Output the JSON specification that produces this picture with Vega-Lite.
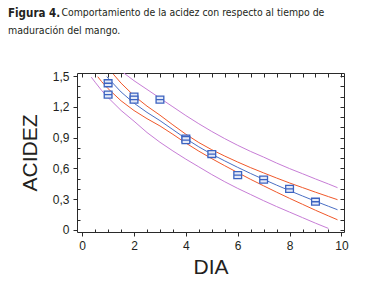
{
  "$schema": "https://vega.github.io/schema/vega-lite/v6.json",
  "width": 267,
  "height": 159,
  "autosize": {"type": "none"},
  "padding": {"left": 77, "top": 73, "right": 33, "bottom": 59},
  "background": "white",
  "config": {
    "view": {"stroke": "#2a2a2a", "strokeWidth": 1},
    "font": "Liberation Sans"
  },
  "title": {
    "text": "Figura 4.",
    "subtitle": "maduración del mango.",
    "anchor": "start",
    "frame": "group",
    "dx": -69,
    "offset": -29,
    "font": "'Liberation Sans Narrow', 'DejaVu Sans Condensed', sans-serif",
    "fontSize": 11.5,
    "fontWeight": "bold",
    "color": "#231f20",
    "subtitleFont": "'Liberation Sans Narrow', 'DejaVu Sans Condensed', sans-serif",
    "subtitleFontSize": 10.5,
    "subtitleColor": "#231f20",
    "subtitlePadding": 6
  },
  "datasets": {
    "pred": [
      {"dia": 0.35, "acidez": 1.49, "banda": "inf"},
      {"dia": 0.5, "acidez": 1.44, "banda": "inf"},
      {"dia": 0.75, "acidez": 1.36, "banda": "inf"},
      {"dia": 1, "acidez": 1.29, "banda": "inf"},
      {"dia": 1.5, "acidez": 1.165, "banda": "inf"},
      {"dia": 2, "acidez": 1.06, "banda": "inf"},
      {"dia": 2.5, "acidez": 0.95, "banda": "inf"},
      {"dia": 3, "acidez": 0.855, "banda": "inf"},
      {"dia": 3.5, "acidez": 0.77, "banda": "inf"},
      {"dia": 4, "acidez": 0.69, "banda": "inf"},
      {"dia": 4.5, "acidez": 0.615, "banda": "inf"},
      {"dia": 5, "acidez": 0.54, "banda": "inf"},
      {"dia": 5.5, "acidez": 0.47, "banda": "inf"},
      {"dia": 6, "acidez": 0.405, "banda": "inf"},
      {"dia": 6.5, "acidez": 0.345, "banda": "inf"},
      {"dia": 7, "acidez": 0.285, "banda": "inf"},
      {"dia": 7.5, "acidez": 0.228, "banda": "inf"},
      {"dia": 8, "acidez": 0.174, "banda": "inf"},
      {"dia": 8.5, "acidez": 0.12, "banda": "inf"},
      {"dia": 9, "acidez": 0.066, "banda": "inf"},
      {"dia": 9.5, "acidez": 0.015, "banda": "inf"},
      {"dia": 1.5, "acidez": 1.55, "banda": "sup"},
      {"dia": 2, "acidez": 1.455, "banda": "sup"},
      {"dia": 2.5, "acidez": 1.37, "banda": "sup"},
      {"dia": 3, "acidez": 1.285, "banda": "sup"},
      {"dia": 3.5, "acidez": 1.2, "banda": "sup"},
      {"dia": 4, "acidez": 1.115, "banda": "sup"},
      {"dia": 4.5, "acidez": 1.035, "banda": "sup"},
      {"dia": 5, "acidez": 0.96, "banda": "sup"},
      {"dia": 5.5, "acidez": 0.89, "banda": "sup"},
      {"dia": 6, "acidez": 0.825, "banda": "sup"},
      {"dia": 6.5, "acidez": 0.765, "banda": "sup"},
      {"dia": 7, "acidez": 0.71, "banda": "sup"},
      {"dia": 7.5, "acidez": 0.652, "banda": "sup"},
      {"dia": 8, "acidez": 0.598, "banda": "sup"},
      {"dia": 8.5, "acidez": 0.548, "banda": "sup"},
      {"dia": 9, "acidez": 0.497, "banda": "sup"},
      {"dia": 9.5, "acidez": 0.448, "banda": "sup"},
      {"dia": 9.85, "acidez": 0.412, "banda": "sup"}
    ],
    "conf": [
      {"dia": 0.6, "acidez": 1.494, "banda": "inf"},
      {"dia": 0.75, "acidez": 1.446, "banda": "inf"},
      {"dia": 1, "acidez": 1.377, "banda": "inf"},
      {"dia": 1.5, "acidez": 1.259, "banda": "inf"},
      {"dia": 2, "acidez": 1.164, "banda": "inf"},
      {"dia": 2.5, "acidez": 1.085, "banda": "inf"},
      {"dia": 3, "acidez": 1.014, "banda": "inf"},
      {"dia": 3.5, "acidez": 0.932, "banda": "inf"},
      {"dia": 4, "acidez": 0.847, "banda": "inf"},
      {"dia": 4.5, "acidez": 0.768, "banda": "inf"},
      {"dia": 5, "acidez": 0.695, "banda": "inf"},
      {"dia": 5.5, "acidez": 0.626, "banda": "inf"},
      {"dia": 6, "acidez": 0.559, "banda": "inf"},
      {"dia": 6.5, "acidez": 0.493, "banda": "inf"},
      {"dia": 7, "acidez": 0.43, "banda": "inf"},
      {"dia": 7.5, "acidez": 0.368, "banda": "inf"},
      {"dia": 8, "acidez": 0.308, "banda": "inf"},
      {"dia": 8.5, "acidez": 0.25, "banda": "inf"},
      {"dia": 9, "acidez": 0.192, "banda": "inf"},
      {"dia": 9.5, "acidez": 0.137, "banda": "inf"},
      {"dia": 9.85, "acidez": 0.099, "banda": "inf"},
      {"dia": 1.2, "acidez": 1.519, "banda": "sup"},
      {"dia": 1.5, "acidez": 1.431, "banda": "sup"},
      {"dia": 2, "acidez": 1.308, "banda": "sup"},
      {"dia": 2.5, "acidez": 1.207, "banda": "sup"},
      {"dia": 3, "acidez": 1.119, "banda": "sup"},
      {"dia": 3.5, "acidez": 1.024, "banda": "sup"},
      {"dia": 4, "acidez": 0.933, "banda": "sup"},
      {"dia": 4.5, "acidez": 0.852, "banda": "sup"},
      {"dia": 5, "acidez": 0.782, "banda": "sup"},
      {"dia": 5.5, "acidez": 0.72, "banda": "sup"},
      {"dia": 6, "acidez": 0.662, "banda": "sup"},
      {"dia": 6.5, "acidez": 0.607, "banda": "sup"},
      {"dia": 7, "acidez": 0.556, "banda": "sup"},
      {"dia": 7.5, "acidez": 0.506, "banda": "sup"},
      {"dia": 8, "acidez": 0.458, "banda": "sup"},
      {"dia": 8.5, "acidez": 0.413, "banda": "sup"},
      {"dia": 9, "acidez": 0.368, "banda": "sup"},
      {"dia": 9.5, "acidez": 0.325, "banda": "sup"},
      {"dia": 9.85, "acidez": 0.295, "banda": "sup"}
    ],
    "ajuste": [
      {"dia": 0.95, "acidez": 1.495},
      {"dia": 1, "acidez": 1.48},
      {"dia": 1.5, "acidez": 1.345},
      {"dia": 2, "acidez": 1.236},
      {"dia": 2.5, "acidez": 1.146},
      {"dia": 3, "acidez": 1.066},
      {"dia": 3.5, "acidez": 0.978},
      {"dia": 4, "acidez": 0.89},
      {"dia": 4.5, "acidez": 0.81},
      {"dia": 5, "acidez": 0.738},
      {"dia": 5.5, "acidez": 0.673},
      {"dia": 6, "acidez": 0.61},
      {"dia": 6.5, "acidez": 0.55},
      {"dia": 7, "acidez": 0.493},
      {"dia": 7.5, "acidez": 0.437},
      {"dia": 8, "acidez": 0.383},
      {"dia": 8.5, "acidez": 0.331},
      {"dia": 9, "acidez": 0.28},
      {"dia": 9.5, "acidez": 0.231},
      {"dia": 9.85, "acidez": 0.197}
    ],
    "obs": [
      {"dia": 1, "acidez": 1.43},
      {"dia": 1, "acidez": 1.32},
      {"dia": 2, "acidez": 1.3},
      {"dia": 2, "acidez": 1.27},
      {"dia": 3, "acidez": 1.27},
      {"dia": 4, "acidez": 0.89},
      {"dia": 4, "acidez": 0.875},
      {"dia": 5, "acidez": 0.74},
      {"dia": 6, "acidez": 0.535},
      {"dia": 7, "acidez": 0.49},
      {"dia": 8, "acidez": 0.4},
      {"dia": 9, "acidez": 0.275}
    ]
  },
  "layer": [
    {
      "data": {"name": "pred"},
      "mark": {"type": "line", "color": "#c77dd6", "strokeWidth": 1, "clip": true},
      "encoding": {
        "x": {
          "field": "dia", "type": "quantitative",
          "scale": {"domain": [-0.2, 10.1], "nice": false, "zero": false},
          "axis": {
            "orient": "bottom", "values": [0, 2, 4, 6, 8, 10], "grid": false,
            "domain": false, "tickSize": 4, "tickColor": "#2a2a2a",
            "labelFontSize": 12, "labelColor": "#231f20", "labelPadding": 4,
            "title": "DIA", "titleFontSize": 21, "titleFontWeight": "normal",
            "titleColor": "#231f20", "titlePadding": 5
          }
        },
        "y": {
          "field": "acidez", "type": "quantitative",
          "scale": {"domain": [-0.02, 1.53], "nice": false, "zero": false},
          "axis": {
            "orient": "left", "values": [0, 0.3, 0.6, 0.9, 1.2, 1.5], "grid": false,
            "domain": false, "tickSize": 4, "tickColor": "#2a2a2a",
            "labelExpr": "datum.value == 0 ? '0' : replace(format(datum.value, '.1f'), '.', ',')",
            "labelFontSize": 12, "labelColor": "#231f20", "labelPadding": 4,
            "title": "ACIDEZ", "titleFontSize": 21, "titleFontWeight": "normal",
            "titleColor": "#231f20", "titlePadding": 12
          }
        },
        "detail": {"field": "banda"}
      }
    },
    {
      "data": {"name": "conf"},
      "mark": {"type": "line", "color": "#f0582a", "strokeWidth": 1, "clip": true},
      "encoding": {
        "x": {
          "field": "dia", "type": "quantitative",
          "axis": {
            "orient": "top", "values": [0, 0.5, 1, 1.5, 2, 2.5, 3, 3.5, 4, 4.5, 5, 5.5, 6, 6.5, 7, 7.5, 8, 8.5, 9, 9.5, 10],
            "grid": false, "domain": false, "labels": false, "tickSize": -4,
            "tickColor": "#2a2a2a",
            "title": "Comportamiento de la acidez con respecto al tiempo de",
            "titleX": -16, "titleY": -58, "titleAlign": "left", "titleAnchor": null,
            "titleBaseline": "alphabetic", "titleAngle": 0,
            "titleFont": "'Liberation Sans Narrow', 'DejaVu Sans Condensed', sans-serif",
            "titleFontSize": 10.4, "titleFontWeight": "normal", "titleColor": "#231f20"
          }
        },
        "y": {
          "field": "acidez", "type": "quantitative",
          "axis": {
            "orient": "right", "values": [0, 0.1, 0.2, 0.3, 0.4, 0.5, 0.6, 0.7, 0.8, 0.9, 1, 1.1, 1.2, 1.3, 1.4, 1.5],
            "grid": false, "domain": false, "labels": false, "tickSize": -4,
            "tickColor": "#2a2a2a", "title": null
          }
        },
        "detail": {"field": "banda"}
      }
    },
    {
      "data": {"name": "ajuste"},
      "mark": {"type": "line", "color": "#4a6fc4", "strokeWidth": 1, "clip": true},
      "encoding": {
        "x": {
          "field": "dia", "type": "quantitative",
          "axis": {
            "orient": "bottom", "values": [0.5, 1, 1.5, 2.5, 3, 3.5, 4.5, 5, 5.5, 6.5, 7, 7.5, 8.5, 9, 9.5],
            "grid": false, "domain": false, "labels": false, "tickSize": -3,
            "tickColor": "#2a2a2a", "title": null
          }
        },
        "y": {
          "field": "acidez", "type": "quantitative",
          "axis": {
            "orient": "left", "values": [0.1, 0.2, 0.4, 0.5, 0.7, 0.8, 1, 1.1, 1.3, 1.4],
            "grid": false, "domain": false, "labels": false, "tickSize": -3,
            "tickColor": "#2a2a2a", "title": null
          }
        }
      }
    },
    {
      "data": {"name": "obs"},
      "mark": {
        "type": "point",
        "shape": "M-1,-0.9H1V0.9H-1Z M-1,0H1",
        "size": 60,
        "filled": false,
        "fill": "#e4eaf8",
        "fillOpacity": 1,
        "stroke": "#3c63c0",
        "strokeWidth": 1.3,
        "opacity": 1
      },
      "encoding": {
        "x": {"field": "dia", "type": "quantitative", "axis": null},
        "y": {"field": "acidez", "type": "quantitative", "axis": null}
      }
    }
  ],
  "resolve": {"axis": {"x": "independent", "y": "independent"}}
}
